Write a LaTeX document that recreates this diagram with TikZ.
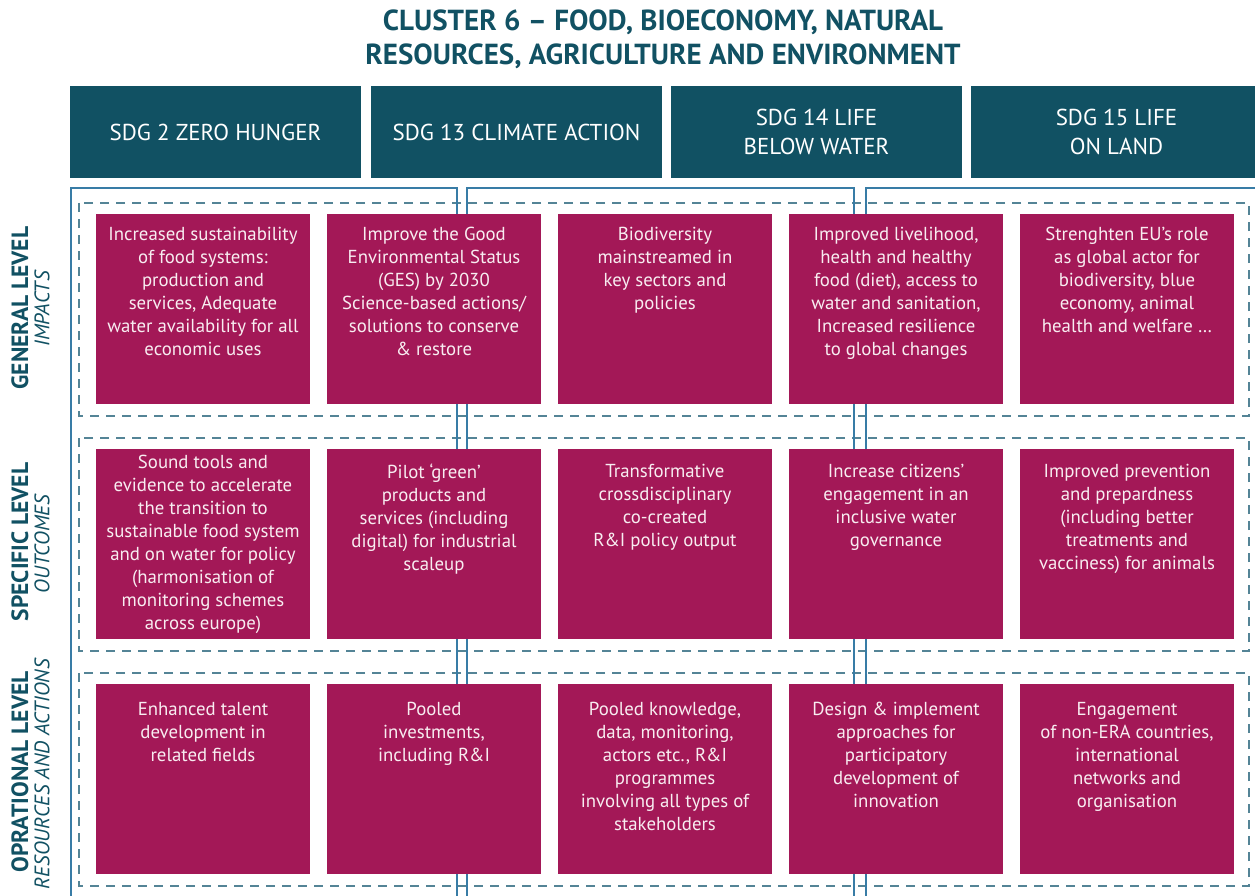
\documentclass[tikz,border=0pt]{standalone}
\usepackage{fontspec}
\setmainfont{PT Sans}
\usetikzlibrary{positioning}
\definecolor{clusterteal}{RGB}{17,81,99}
\definecolor{cellred}{RGB}{163,24,87}
\definecolor{frameblue}{RGB}{56,124,166}
\definecolor{dashgrey}{RGB}{84,132,150}
\tikzset{
    title/.style = {align=center, text=clusterteal, font=\fontsize{29}{34}\selectfont\bfseries},
    sdgbox/.style = {rectangle, fill=clusterteal, minimum width=291pt, minimum height=92pt, inner sep=0pt, outer sep=0pt, align=center, text=white, font=\fontsize{23}{29}\selectfont},
    cellbox/.style = {rectangle, fill=cellred, minimum width=214pt, minimum height=190pt, inner sep=0pt, outer sep=0pt},
    celltext/.style = {anchor=north, align=center, inner sep=0pt, text=white!92!cellred, font=\fontsize{18.8}{23}\selectfont},
    levelname/.style = {rotate=90, text=clusterteal, font=\fontsize{23.5}{25}\selectfont\bfseries},
    levelsub/.style = {rotate=90, text=clusterteal, font=\fontsize{21}{22}\selectfont\itshape},
    rowframe/.style = {dashgrey, line width=1.3pt, dash pattern=on 9pt off 7pt},
    sdgframe/.style = {frameblue, line width=1.8pt}
}

\begin{document}
\begin{tikzpicture}[x=1pt, y=-1pt, node distance=17pt]
  \useasboundingbox (0,0) rectangle (1255,896);
  \node[title] (title) at (663,39) {CLUSTER 6 – FOOD, BIOECONOMY, NATURAL\\RESOURCES, AGRICULTURE AND ENVIRONMENT};

  % sdg headers
  \node[sdgbox] (sdg2) at (215.5,132) {SDG 2 ZERO HUNGER};
  \node[sdgbox, right=10pt of sdg2] (sdg13) {SDG 13 CLIMATE ACTION};
  \node[sdgbox, right=9pt of sdg13] (sdg14) {SDG 14 LIFE\\BELOW WATER};
  \node[sdgbox, right=9pt of sdg14] (sdg15) {SDG 15 LIFE\\ON LAND};

  % dashed level rows
  \draw[rowframe] (79,203) rectangle (1249,416);
  \draw[rowframe] (79,438) rectangle (1249,651);
  \draw[rowframe] (79,673) rectangle (1249,886);

  % blue sdg frames
  \draw[sdgframe] (71,896) |- (457,188) -- (457,896);
  \draw[sdgframe] (467,896) |- (854,188) -- (854,896);
  \draw[sdgframe] (866,896) |- (1256,188);

  % level names
  \node[levelname] (gen) at (20,308) {GENERAL LEVEL};
  \node[levelsub] (genb) at (42,309) {IMPACTS};
  \node[levelname] (spec) at (20,542) {SPECIFIC LEVEL};
  \node[levelsub] (specb) at (42,544) {OUTCOMES};
  \node[levelname] (oper) at (20,772) {OPRATIONAL LEVEL};
  \node[levelsub] (operb) at (42,774) {RESOURCES AND ACTIONS};

  % general level
  \node[cellbox] (g1) at (203,309) {};
  \node[cellbox, right=of g1] (g2) {};
  \node[cellbox, right=of g2] (g3) {};
  \node[cellbox, right=of g3] (g4) {};
  \node[cellbox, right=of g4] (g5) {};
  \node[celltext] (g1t) at ([yshift=-13pt]g1.north) {Increased sustainability\\of food systems:\\production and\\services, Adequate\\water availability for all\\economic uses};
  \node[celltext] (g2t) at ([yshift=-13pt]g2.north) {Improve the Good\\Environmental Status\\(GES) by 2030\\Science-based actions/\\solutions to conserve\\\& restore};
  \node[celltext] (g3t) at ([yshift=-13pt]g3.north) {Biodiversity\\mainstreamed in\\key sectors and\\policies};
  \node[celltext] (g4t) at ([yshift=-13pt]g4.north) {Improved livelihood,\\health and healthy\\food (diet), access to\\water and sanitation,\\Increased resilience\\to global changes};
  \node[celltext] (g5t) at ([yshift=-13pt]g5.north) {Strenghten EU’s role\\as global actor for\\biodiversity, blue\\economy, animal\\health and welfare …};

  % specific level
  \node[cellbox, below=45pt of g1] (s1) {};
  \node[cellbox, right=of s1] (s2) {};
  \node[cellbox, right=of s2] (s3) {};
  \node[cellbox, right=of s3] (s4) {};
  \node[cellbox, right=of s4] (s5) {};
  \node[celltext] (s1t) at ([yshift=-6pt]s1.north) {Sound tools and\\evidence to accelerate\\the transition to\\sustainable food system\\and on water for policy\\(harmonisation of\\monitoring schemes\\across europe)};
  \node[celltext] (s2t) at ([yshift=-15pt]s2.north) {Pilot ‘green’\\products and\\services (including\\digital) for industrial\\scaleup};
  \node[celltext] (s3t) at ([yshift=-15pt]s3.north) {Transformative\\crossdisciplinary\\co-created\\R\&I policy output};
  \node[celltext] (s4t) at ([yshift=-15pt]s4.north) {Increase citizens’\\engagement in an\\inclusive water\\governance};
  \node[celltext] (s5t) at ([yshift=-15pt]s5.north) {Improved prevention\\and prepardness\\(including better\\treatments and\\vacciness) for animals};

  % operational level
  \node[cellbox, below=45pt of s1] (o1) {};
  \node[cellbox, right=of o1] (o2) {};
  \node[cellbox, right=of o2] (o3) {};
  \node[cellbox, right=of o3] (o4) {};
  \node[cellbox, right=of o4] (o5) {};
  \node[celltext] (o1t) at ([yshift=-18pt]o1.north) {Enhanced talent\\development in\\related fields};
  \node[celltext] (o2t) at ([yshift=-18pt]o2.north) {Pooled\\investments,\\including R\&I};
  \node[celltext] (o3t) at ([yshift=-18pt]o3.north) {Pooled knowledge,\\data, monitoring,\\actors etc., R\&I\\programmes\\involving all types of\\stakeholders};
  \node[celltext] (o4t) at ([yshift=-18pt]o4.north) {Design \& implement\\approaches for\\participatory\\development of\\innovation};
  \node[celltext] (o5t) at ([yshift=-18pt]o5.north) {Engagement\\of non-ERA countries,\\international\\networks and\\organisation};
\end{tikzpicture}
\end{document}
